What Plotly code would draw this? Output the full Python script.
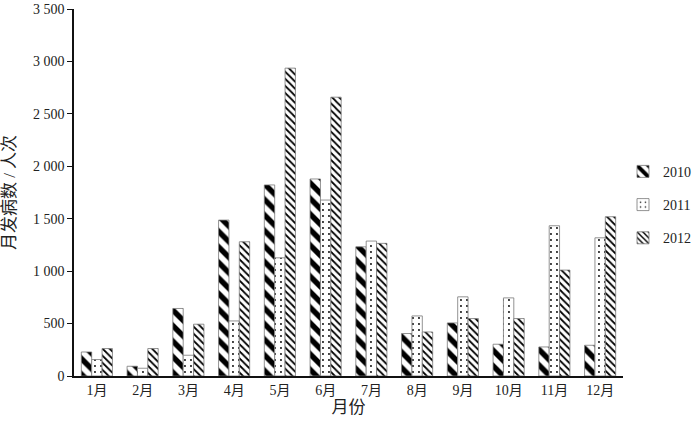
import plotly.graph_objects as go

# 月份与各年月发病数（人次）
months = ["1月", "2月", "3月", "4月", "5月", "6月", "7月", "8月", "9月", "10月", "11月", "12月"]
y2010 = [229, 93, 644, 1487, 1822, 1879, 1232, 405, 506, 303, 277, 293]
y2011 = [157, 74, 198, 525, 1127, 1678, 1287, 573, 755, 745, 1433, 1318]
y2012 = [262, 262, 494, 1280, 2936, 2659, 1265, 420, 548, 548, 1010, 1519]

FONT = "Liberation Serif, Noto Sans CJK SC, serif"

fig = go.Figure()

series = [
    ("2010", y2010, dict(shape="\\", size=11, solidity=0.5, fgcolor="#000", fgopacity=1, bgcolor="white")),
    ("2011", y2011, dict(shape=".", size=6, solidity=0.08, fgcolor="#000", fgopacity=1, bgcolor="white")),
    ("2012", y2012, dict(shape="\\", size=5, solidity=0.35, fgcolor="#000", fgopacity=1, bgcolor="white")),
]
for name, vals, pat in series:
    fig.add_trace(go.Bar(
        x=months, y=vals, name=name, legendgroup=name,
        marker=dict(color="white", pattern=pat, line=dict(color="#777", width=0.8)),
    ))

fig.update_layout(
    width=700, height=424,
    margin=dict(l=74, r=77, t=9, b=48, autoexpand=False),
    plot_bgcolor="white", paper_bgcolor="white",
    font=dict(family=FONT, size=14, color="#222"),
    barmode="group", bargap=0.32, bargroupgap=0,
    separators=". ",
    legend=dict(x=1.0, y=0.6, xanchor="left", yanchor="top",
                traceorder="grouped", tracegroupgap=12,
                bgcolor="rgba(0,0,0,0)",
                font=dict(size=14), itemwidth=30),
    xaxis=dict(
        title=dict(text="月份", standoff=2),
        showline=True, linecolor="#111", linewidth=1.5,
        ticks="", showgrid=False, automargin=False,
    ),
    yaxis=dict(
        title=dict(text="月发病数 / 人次", standoff=13),
        range=[0, 3500], dtick=500, separatethousands=True,
        showline=True, linecolor="#111", linewidth=1.5,
        ticks="outside", ticklen=5, tickcolor="#111",
        showgrid=False, zeroline=False, automargin=False,
    ),
)

# 去掉页面默认的 body 边距，让图贴齐窗口左上角
fig.write_html("out.html", config={"displayModeBar": False},
               post_script="document.body.style.margin='0';")
